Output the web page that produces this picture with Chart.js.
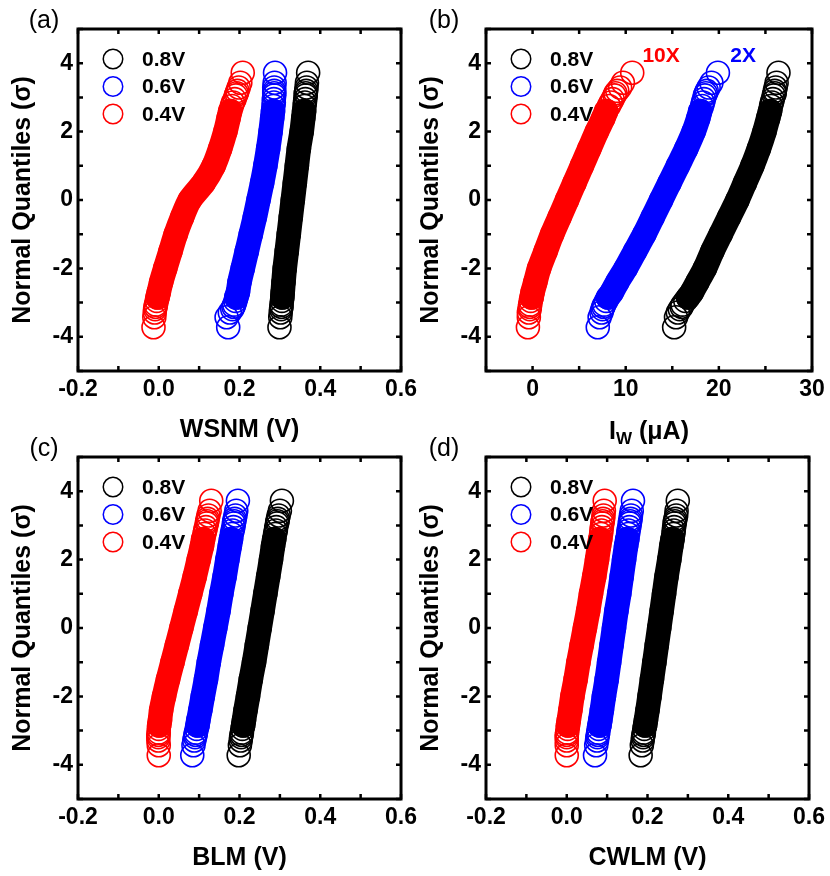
<!DOCTYPE html>
<html>
<head>
<meta charset="utf-8">
<title>Normal quantile plots</title>
<script src="https://cdn.jsdelivr.net/npm/chart.js@4.4.1/dist/chart.umd.min.js"></script>
<style>
  html, body { margin: 0; padding: 0; background: #fff; }
  #fig { position: relative; width: 830px; height: 876px; overflow: hidden; }
  #fig canvas { position: absolute; }
</style>
</head>
<body>
<div id="fig">
  <canvas id="panel-a" width="422" height="448" style="left:0;top:0"></canvas>
  <canvas id="panel-b" width="422" height="448" style="left:408px;top:0"></canvas>
  <canvas id="panel-c" width="422" height="448" style="left:0;top:428px"></canvas>
  <canvas id="panel-d" width="422" height="448" style="left:408px;top:428px"></canvas>
</div>
<script>
(function () {
  // Normal quantile levels (sigma) shared by every series.
  // Tails are listed point by point, the dense middle is sampled.
  var quantiles = [
    -3.72, -3.43, -3.29, -3.19, -3.12, -3.06, -2.95, -2.85, -2.7, -2.4,
    -2, -1.5, -1, -0.5, 0, 0.5, 1, 1.5, 2, 2.4,
    2.6, 2.75, 2.85, 2.95, 3.06, 3.12, 3.19, 3.29, 3.43, 3.72,
  ];
  // quantile range where the circles pile up into a solid band
  var bandFrom = -2.85;
  var bandTo = 2.6;

  var seriesLabels = ["0.8V", "0.6V", "0.4V"];
  var seriesColors = ["#000000", "#0000ff", "#ff0000"];

  // (a) WSNM, V
  var wsnm08 = [
    0.299, 0.301, 0.302, 0.303, 0.304, 0.304, 0.305, 0.306, 0.307, 0.309,
    0.312, 0.317, 0.322, 0.327, 0.332, 0.337, 0.342, 0.347, 0.354, 0.358,
    0.360, 0.361, 0.362, 0.363, 0.364, 0.364, 0.365, 0.366, 0.367, 0.370,
  ];
  var wsnm06 = [
    0.172, 0.168, 0.176, 0.182, 0.185, 0.187, 0.190, 0.192, 0.196, 0.200,
    0.208, 0.218, 0.228, 0.238, 0.247, 0.256, 0.264, 0.271, 0.277, 0.281,
    0.283, 0.284, 0.285, 0.285, 0.286, 0.286, 0.286, 0.286, 0.287, 0.288,
  ];
  var wsnm04 = [
    -0.013, -0.011, -0.010, -0.009, -0.008, -0.007, -0.005, -0.003, 0.000, 0.006,
    0.016, 0.029, 0.042, 0.058, 0.077, 0.111, 0.136, 0.152, 0.165, 0.173,
    0.177, 0.181, 0.184, 0.188, 0.191, 0.193, 0.195, 0.198, 0.202, 0.208,
  ];

  // (b) write current I_W, uA
  var iw08 = [
    15.2, 15.4, 15.6, 15.8, 16.0, 16.1, 16.4, 16.7, 17.1, 17.7,
    18.5, 19.3, 20.2, 21.1, 22.0, 22.8, 23.6, 24.3, 24.9, 25.3,
    25.5, 25.6, 25.7, 25.8, 25.9, 26.0, 26.0, 26.1, 26.2, 26.4,
  ];
  var iw06 = [
    7.0, 7.2, 7.4, 7.5, 7.6, 7.7, 7.9, 8.1, 8.5, 9.1,
    10.0, 11.0, 12.0, 12.9, 13.8, 14.7, 15.6, 16.5, 17.3, 17.8,
    18.0, 18.2, 18.3, 18.4, 18.5, 18.6, 18.7, 18.9, 19.2, 19.9,
  ];
  var iw04 = [
    -0.5, -0.4, -0.4, -0.3, -0.3, -0.25, -0.2, -0.1, 0.0, 0.3,
    0.7, 1.4, 2.1, 2.9, 3.7, 4.5, 5.3, 6.1, 6.9, 7.6,
    7.9, 8.2, 8.4, 8.6, 8.8, 8.9, 9.1, 9.4, 9.7, 10.7,
  ];

  // (c) BLM, V
  var blm08 = [
    0.198, 0.201, 0.203, 0.204, 0.205, 0.206, 0.207, 0.209, 0.211, 0.215,
    0.221, 0.228, 0.236, 0.243, 0.250, 0.257, 0.264, 0.271, 0.278, 0.283,
    0.286, 0.288, 0.290, 0.291, 0.293, 0.294, 0.295, 0.297, 0.300, 0.305,
  ];
  var blm06 = [
    0.083, 0.086, 0.088, 0.090, 0.091, 0.092, 0.094, 0.096, 0.098, 0.103,
    0.109, 0.117, 0.124, 0.132, 0.140, 0.148, 0.155, 0.163, 0.170, 0.176,
    0.179, 0.181, 0.183, 0.185, 0.186, 0.187, 0.188, 0.190, 0.192, 0.196,
  ];
  var blm04 = [
    0.000, 0.000, -0.001, -0.001, -0.001, 0.000, 0.000, 0.001, 0.003, 0.006,
    0.013, 0.023, 0.034, 0.045, 0.056, 0.067, 0.078, 0.089, 0.099, 0.107,
    0.110, 0.113, 0.115, 0.117, 0.119, 0.120, 0.121, 0.123, 0.126, 0.130,
  ];

  // (d) CWLM, V
  var cwlm08 = [
    0.183, 0.186, 0.188, 0.189, 0.190, 0.191, 0.192, 0.194, 0.196, 0.200,
    0.205, 0.211, 0.217, 0.223, 0.229, 0.235, 0.241, 0.247, 0.254, 0.259,
    0.262, 0.264, 0.265, 0.266, 0.267, 0.268, 0.269, 0.271, 0.272, 0.275,
  ];
  var cwlm06 = [
    0.070, 0.073, 0.075, 0.076, 0.077, 0.078, 0.079, 0.081, 0.083, 0.087,
    0.092, 0.099, 0.105, 0.111, 0.117, 0.123, 0.130, 0.136, 0.142, 0.147,
    0.150, 0.152, 0.153, 0.155, 0.156, 0.157, 0.158, 0.159, 0.161, 0.164,
  ];
  var cwlm04 = [
    0.000, 0.000, 0.000, 0.000, 0.000, 0.001, 0.002, 0.003, 0.005, 0.009,
    0.014, 0.022, 0.029, 0.037, 0.045, 0.053, 0.060, 0.068, 0.075, 0.080,
    0.083, 0.085, 0.086, 0.087, 0.088, 0.089, 0.090, 0.091, 0.092, 0.094,
  ];

  var family = '"Liberation Sans", Arial, Helvetica, sans-serif';
  Chart.defaults.font.family = family;
  Chart.defaults.color = "#000";

  var markerRadius = 11.5;
  var markerStroke = 1.6;

  function points(xs) {
    return xs.map(function (x, i) { return { x: x, y: quantiles[i] }; });
  }

  function buildDatasets(cols) {
    var sets = [];
    cols.forEach(function (xs, k) {
      var pts = points(xs);
      // solid body where thousands of circles overlap
      sets.push({
        label: seriesLabels[k] + " band",
        data: pts.filter(function (p) { return p.y >= bandFrom && p.y <= bandTo; }),
        showLine: true,
        borderColor: seriesColors[k],
        borderWidth: 2 * markerRadius + markerStroke,
        borderCapStyle: "round",
        borderJoinStyle: "round",
        tension: 0.3,
        pointRadius: 0,
        pointHoverRadius: 0,
        order: 2,
      });
      sets.push({
        label: seriesLabels[k],
        legendItem: true,
        data: pts,
        pointStyle: "circle",
        pointRadius: markerRadius,
        pointHoverRadius: markerRadius,
        pointBorderWidth: markerStroke,
        pointBackgroundColor: "rgba(0,0,0,0)",
        pointBorderColor: seriesColors[k],
        borderColor: seriesColors[k],
        showLine: false,
        order: 1,
      });
    });
    return sets;
  }

  // frame, inward ticks on all sides, legend, panel letter and notes
  var decor = {
    id: "decor",
    afterDatasetsDraw: function (chart, args, opts) {
      var a = chart.chartArea, ctx = chart.ctx;
      var xs = chart.scales.x, ys = chart.scales.y;
      ctx.save();
      ctx.strokeStyle = "#000";
      ctx.lineWidth = 2.5;
      ctx.beginPath();
      xs.ticks.forEach(function (t) {
        var px = xs.getPixelForValue(t.value);
        ctx.moveTo(px, a.bottom); ctx.lineTo(px, a.bottom - 5);
        ctx.moveTo(px, a.top); ctx.lineTo(px, a.top + 5);
      });
      ys.ticks.forEach(function (t) {
        var py = ys.getPixelForValue(t.value);
        ctx.moveTo(a.left, py); ctx.lineTo(a.left + 5, py);
        ctx.moveTo(a.right, py); ctx.lineTo(a.right - 5, py);
      });
      ctx.stroke();
      ctx.lineWidth = 3;
      ctx.strokeRect(a.left, a.top, a.right - a.left, a.bottom - a.top);

      // legend
      var items = chart.data.datasets.filter(function (d) { return d.legendItem; });
      ctx.textBaseline = "middle";
      ctx.textAlign = "left";
      ctx.font = "bold 21px " + family;
      items.forEach(function (d, i) {
        var cy = a.top + 30 + i * 27.5;
        ctx.beginPath();
        ctx.arc(a.left + 35, cy, 9.75, 0, Math.PI * 2);
        ctx.strokeStyle = d.pointBorderColor;
        ctx.lineWidth = 1.5;
        ctx.stroke();
        ctx.fillStyle = "#000";
        ctx.fillText(d.label, a.left + 64, cy + 1);
      });

      // notes placed in data coordinates
      (opts.notes || []).forEach(function (n) {
        ctx.font = "bold 21px " + family;
        ctx.textAlign = "center";
        ctx.fillStyle = n.color;
        ctx.fillText(n.text, xs.getPixelForValue(n.x), ys.getPixelForValue(n.y));
      });

      // panel letter
      ctx.font = "25px " + family;
      ctx.textAlign = "center";
      ctx.fillStyle = "#000";
      ctx.fillText(opts.letter, opts.letterX, 21);

      // x title with subscript, e.g. I_W
      if (opts.subTitle) {
        var st = opts.subTitle;
        var big = "bold 25px " + family, small = "bold 17px " + family;
        ctx.font = big;
        var w1 = ctx.measureText(st.main).width;
        var w3 = ctx.measureText(st.rest).width;
        ctx.font = small;
        var w2 = ctx.measureText(st.sub).width;
        var x0 = (a.left + a.right) / 2 - (w1 + w2 + w3) / 2;
        var base = 439;
        ctx.textAlign = "left";
        ctx.textBaseline = "alphabetic";
        ctx.font = big;
        ctx.fillText(st.main, x0, base);
        ctx.font = small;
        ctx.fillText(st.sub, x0 + w1, base + 5);
        ctx.font = big;
        ctx.fillText(st.rest, x0 + w1 + w2, base);
      }
      ctx.restore();
    },
  };

  function voltLabel(v) {
    return Math.round(v * 10) % 2 === 0 ? v.toFixed(1) : "";
  }

  function makePanel(id, p) {
    new Chart(document.getElementById(id), {
      type: "scatter",
      data: { datasets: buildDatasets(p.series) },
      plugins: [decor],
      options: {
        responsive: false,
        animation: false,
        events: [],
        layout: { padding: { left: 0, top: 29, right: 18, bottom: 0 } },
        plugins: {
          legend: { display: false },
          tooltip: { enabled: false },
          decor: { letter: p.letter, letterX: p.letterX, notes: p.notes, subTitle: p.subTitle },
        },
        scales: {
          x: {
            type: "linear",
            min: p.xMin,
            max: p.xMax,
            afterFit: function (s) { s.height = 77; },
            grid: { display: false, drawTicks: false },
            border: { display: false },
            ticks: {
              stepSize: p.xStep,
              autoSkip: false,
              maxRotation: 0,
              padding: 5,
              color: "#000",
              font: { size: 23, weight: "bold" },
              callback: p.xLabel,
            },
            title: {
              display: !!p.xTitle,
              text: p.xTitle || "",
              color: "#000",
              font: { size: 25, weight: "bold" },
              padding: { top: 0, bottom: 3 },
            },
          },
          y: {
            type: "linear",
            min: -5,
            max: 5,
            afterFit: function (s) { s.width = 78; },
            grid: { display: false, drawTicks: false },
            border: { display: false },
            ticks: {
              stepSize: 1,
              autoSkip: false,
              padding: 5,
              color: "#000",
              font: { size: 23, weight: "bold" },
              callback: function (v) { return v % 2 === 0 ? String(v) : ""; },
            },
            title: {
              display: true,
              text: "Normal Quantiles (\u03c3)",
              color: "#000",
              font: { size: 25, weight: "bold" },
              padding: { top: 8, bottom: 0 },
            },
          },
        },
      },
    });
  }

  makePanel("panel-a", {
    letter: "(a)", letterX: 44,
    series: [wsnm08, wsnm06, wsnm04],
    xMin: -0.2, xMax: 0.6, xStep: 0.1, xLabel: voltLabel,
    xTitle: "WSNM (V)",
  });

  makePanel("panel-b", {
    letter: "(b)", letterX: 36,
    series: [iw08, iw06, iw04],
    xMin: -5, xMax: 30, xStep: 5,
    xLabel: function (v) { return v % 10 === 0 ? String(v) : ""; },
    subTitle: { main: "I", sub: "W", rest: " (\u03bcA)" },
    notes: [
      { text: "10X", color: "#ff0000", x: 13.8, y: 4.2 },
      { text: "2X", color: "#0000ff", x: 22.6, y: 4.2 },
    ],
  });

  makePanel("panel-c", {
    letter: "(c)", letterX: 44,
    series: [blm08, blm06, blm04],
    xMin: -0.2, xMax: 0.6, xStep: 0.1, xLabel: voltLabel,
    xTitle: "BLM (V)",
  });

  makePanel("panel-d", {
    letter: "(d)", letterX: 36,
    series: [cwlm08, cwlm06, cwlm04],
    xMin: -0.2, xMax: 0.6, xStep: 0.1, xLabel: voltLabel,
    xTitle: "CWLM (V)",
  });
})();
</script>
</body>
</html>
